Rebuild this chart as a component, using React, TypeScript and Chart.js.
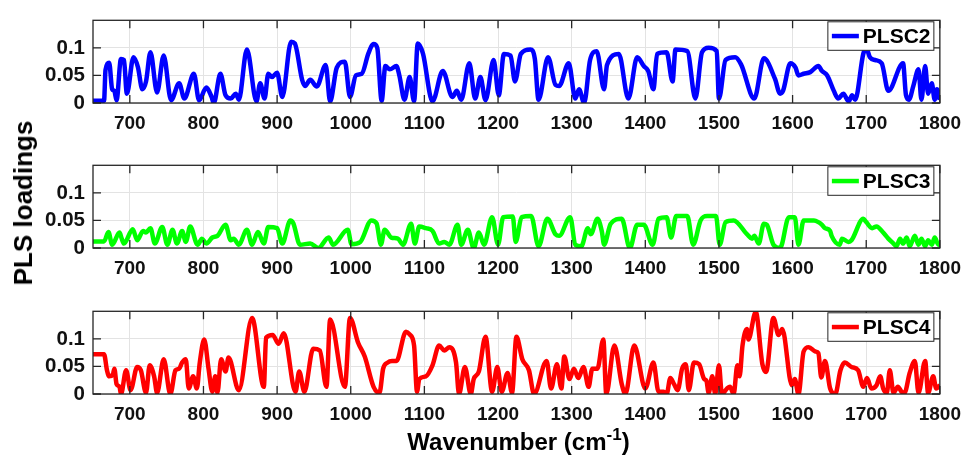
import React, { useEffect, useRef } from "react";
import { Chart, registerables } from "chart.js";

Chart.register(...registerables);

// ---------- data ----------
const xTicks = [700, 800, 900, 1000, 1100, 1200, 1300, 1400, 1500, 1600, 1700, 1800];
const yTicks = [0, 0.05, 0.1];
const yTickLabels = ["0", "0.05", "0.1"];
const xMin = 650;
const xMax = 1800;
const yMin = 0;
const yMax = 0.15;

const seriesNames = ["PLSC2", "PLSC3", "PLSC4"];
const seriesColors = ["#0000ff", "#00ff00", "#ff0000"];

const plsc2Wavenumbers = [
  650, 665, 667, 672, 676, 679, 682, 688, 692, 696, 705, 711, 717, 722, 728, 737, 746, 756, 767, 774,
  787, 794, 804, 811, 814, 823, 830, 837, 844, 848, 859, 872, 877, 883, 888, 893, 900, 907, 919, 924,
  934, 938, 945, 954, 966, 972, 981, 992, 999, 1007, 1015, 1024, 1031, 1036, 1042, 1047, 1053, 1062, 1066, 1073,
  1080, 1086, 1091, 1098, 1111, 1125, 1138, 1144, 1150, 1161, 1169, 1176, 1183, 1194, 1201, 1208, 1217, 1223, 1231, 1244,
  1250, 1255, 1268, 1278, 1283, 1296, 1305, 1310, 1317, 1325, 1334, 1344, 1348, 1364, 1377, 1389, 1398, 1404, 1411, 1416,
  1429, 1437, 1441, 1457, 1468, 1477, 1486, 1497, 1500, 1509, 1522, 1530, 1548, 1561, 1576, 1583, 1587, 1597, 1604, 1608,
  1615, 1624, 1635, 1640, 1647, 1656, 1662, 1669, 1676, 1681, 1685, 1696, 1700, 1705, 1712, 1721, 1730, 1750, 1754, 1758,
  1764, 1771, 1775, 1780, 1784, 1789, 1793, 1796, 1800,
];
const plsc2Values = [
  0.004, 0.004, 0.06, 0.073, 0.025, 0.022, 0.005, 0.08, 0.078, 0.017, 0.083, 0.065, 0.025, 0.039, 0.092, 0.019, 0.086, 0.005, 0.036, 0.008,
  0.053, 0.005, 0.028, 0.011, 0.0, 0.053, 0.014, 0.008, 0.017, 0.006, 0.097, 0.003, 0.036, 0.008, 0.053, 0.047, 0.055, 0.011, 0.111, 0.108,
  0.042, 0.031, 0.042, 0.03, 0.069, 0.003, 0.064, 0.075, 0.011, 0.05, 0.053, 0.09, 0.107, 0.1, 0.004, 0.067, 0.061, 0.067, 0.05, 0.006,
  0.047, 0.003, 0.108, 0.09, 0.003, 0.058, 0.011, 0.022, 0.006, 0.072, 0.008, 0.047, 0.005, 0.078, 0.014, 0.089, 0.086, 0.039, 0.089, 0.097,
  0.08, 0.006, 0.083, 0.033, 0.031, 0.072, 0.008, 0.025, 0.0, 0.078, 0.094, 0.025, 0.069, 0.089, 0.008, 0.083, 0.067, 0.058, 0.025, 0.089,
  0.092, 0.039, 0.097, 0.094, 0.008, 0.092, 0.1, 0.094, 0.008, 0.078, 0.083, 0.07, 0.008, 0.081, 0.044, 0.017, 0.022, 0.072, 0.064, 0.05,
  0.053, 0.056, 0.067, 0.058, 0.05, 0.022, 0.008, 0.017, 0.003, 0.014, 0.006, 0.089, 0.1, 0.083, 0.078, 0.072, 0.022, 0.072, 0.014, 0.006,
  0.031, 0.061, 0.006, 0.067, 0.017, 0.036, 0.006, 0.025, 0.006,
];

const plsc3Wavenumbers = [
  650, 665, 671, 676, 686, 689, 692, 704, 710, 718, 722, 728, 734, 744, 751, 758, 764, 771, 776, 782,
  792, 798, 804, 812, 819, 830, 837, 841, 848, 859, 866, 874, 882, 888, 900, 907, 918, 922, 931, 945,
  956, 970, 976, 996, 1001, 1013, 1028, 1035, 1041, 1046, 1055, 1064, 1071, 1082, 1087, 1093, 1102, 1111, 1120, 1127,
  1134, 1145, 1150, 1159, 1167, 1174, 1181, 1192, 1200, 1207, 1220, 1224, 1232, 1245, 1255, 1267, 1278, 1283, 1298, 1305,
  1313, 1322, 1326, 1335, 1341, 1344, 1353, 1368, 1379, 1389, 1398, 1410, 1418, 1429, 1435, 1442, 1457, 1465, 1475, 1484,
  1496, 1501, 1509, 1520, 1538, 1545, 1548, 1554, 1561, 1565, 1574, 1583, 1595, 1603, 1608, 1615, 1629, 1635, 1640, 1644,
  1651, 1653, 1664, 1667, 1676, 1680, 1696, 1700, 1708, 1714, 1723, 1730, 1737, 1741, 1746, 1750, 1755, 1759, 1766, 1771,
  1775, 1780, 1784, 1789, 1793, 1798, 1800,
];
const plsc3Values = [
  0.012, 0.012, 0.029, 0.006, 0.028, 0.017, 0.008, 0.034, 0.014, 0.031, 0.028, 0.036, 0.008, 0.038, 0.006, 0.033, 0.008, 0.031, 0.011, 0.039,
  0.006, 0.017, 0.008, 0.019, 0.022, 0.042, 0.014, 0.017, 0.006, 0.033, 0.006, 0.029, 0.008, 0.038, 0.036, 0.008, 0.05, 0.045, 0.006, 0.008,
  0.0, 0.019, 0.006, 0.033, 0.007, 0.011, 0.05, 0.045, 0.006, 0.033, 0.019, 0.017, 0.006, 0.044, 0.008, 0.039, 0.036, 0.031, 0.008, 0.011,
  0.006, 0.042, 0.006, 0.033, 0.0, 0.028, 0.006, 0.056, 0.006, 0.056, 0.057, 0.011, 0.056, 0.058, 0.003, 0.053, 0.025, 0.022, 0.056, 0.006,
  0.003, 0.036, 0.025, 0.053, 0.03, 0.006, 0.044, 0.053, 0.0, 0.042, 0.042, 0.006, 0.053, 0.056, 0.019, 0.058, 0.058, 0.006, 0.05, 0.058,
  0.058, 0.006, 0.047, 0.05, 0.025, 0.017, 0.022, 0.008, 0.044, 0.042, 0.006, 0.0, 0.056, 0.056, 0.006, 0.05, 0.05, 0.047, 0.042, 0.036,
  0.031, 0.022, 0.006, 0.017, 0.011, 0.014, 0.053, 0.047, 0.036, 0.039, 0.028, 0.017, 0.008, 0.003, 0.017, 0.008, 0.019, 0.003, 0.022, 0.006,
  0.017, 0.003, 0.014, 0.006, 0.019, 0.006, 0.011,
];

const plsc4Wavenumbers = [
  650, 665, 669, 672, 677, 679, 682, 686, 688, 695, 701, 710, 715, 722, 727, 733, 737, 746, 755, 762,
  767, 771, 776, 780, 786, 791, 795, 801, 807, 812, 816, 819, 824, 830, 834, 848, 866, 882, 885, 894,
  902, 909, 925, 930, 937, 949, 958, 967, 972, 992, 999, 1010, 1019, 1031, 1039, 1044, 1050, 1056, 1062, 1075,
  1080, 1086, 1090, 1093, 1102, 1111, 1120, 1127, 1134, 1143, 1147, 1155, 1163, 1167, 1174, 1183, 1192, 1199, 1205, 1213,
  1219, 1225, 1233, 1242, 1249, 1266, 1272, 1280, 1286, 1290, 1297, 1303, 1309, 1316, 1323, 1328, 1335, 1343, 1347, 1358,
  1368, 1373, 1385, 1400, 1411, 1418, 1425, 1429, 1434, 1439, 1444, 1450, 1455, 1459, 1466, 1473, 1480, 1483, 1486, 1491,
  1495, 1500, 1504, 1511, 1515, 1520, 1525, 1528, 1532, 1538, 1540, 1550, 1559, 1564, 1574, 1581, 1586, 1599, 1603, 1608,
  1615, 1622, 1631, 1635, 1639, 1644, 1651, 1658, 1665, 1671, 1680, 1689, 1696, 1701, 1707, 1714, 1719, 1723, 1728, 1732,
  1737, 1743, 1748, 1752, 1759, 1766, 1771, 1780, 1784, 1791, 1795, 1800,
];
const plsc4Values = [
  0.072, 0.072, 0.043, 0.032, 0.035, 0.046, 0.018, 0.013, 0.0, 0.043, 0.007, 0.049, 0.043, 0.002, 0.052, 0.032, 0.002, 0.063, 0.0, 0.043,
  0.046, 0.057, 0.063, 0.01, 0.032, 0.01, 0.057, 0.099, 0.045, 0.004, 0.032, 0.002, 0.063, 0.041, 0.066, 0.007, 0.138, 0.013, 0.102, 0.107,
  0.091, 0.11, 0.004, 0.041, 0.004, 0.082, 0.079, 0.013, 0.135, 0.013, 0.138, 0.093, 0.068, 0.013, 0.002, 0.046, 0.057, 0.06, 0.06, 0.113,
  0.108, 0.088, 0.004, 0.027, 0.032, 0.052, 0.088, 0.079, 0.085, 0.057, 0.0, 0.049, 0.0, 0.027, 0.041, 0.104, 0.004, 0.049, 0.004, 0.038,
  0.002, 0.104, 0.063, 0.043, 0.0, 0.06, 0.01, 0.054, 0.01, 0.068, 0.027, 0.046, 0.029, 0.049, 0.013, 0.046, 0.046, 0.099, 0.0, 0.088,
  0.018, 0.0, 0.088, 0.01, 0.057, 0.004, 0.004, 0.0, 0.029, 0.018, 0.007, 0.046, 0.054, 0.007, 0.057, 0.054, 0.027, 0.024, 0.002, 0.032,
  0.0, 0.052, 0.0, 0.01, 0.013, 0.0, 0.052, 0.032, 0.088, 0.118, 0.099, 0.149, 0.054, 0.04, 0.138, 0.107, 0.118, 0.016, 0.027, 0.0,
  0.077, 0.085, 0.077, 0.074, 0.03, 0.06, 0.01, 0.0, 0.043, 0.057, 0.049, 0.043, 0.013, 0.029, 0.01, 0.016, 0.032, 0.01, 0.002, 0.043,
  0.002, 0.013, 0.004, 0.002, 0.038, 0.06, 0.002, 0.06, 0.002, 0.032, 0.01, 0.016,
];

const seriesWavenumbers = [plsc2Wavenumbers, plsc3Wavenumbers, plsc4Wavenumbers];
const seriesValues = [plsc2Values, plsc3Values, plsc4Values];

const xTitle = "Wavenumber (cm";
const xTitleSup = "-1";
const xTitleEnd = ")";
const yTitle = "PLS loadings";

// ---------- layout ----------
const FONT = "'Liberation Sans', Arial, Helvetica, sans-serif";
const W = 970;
const CANVAS_H = 135;
const PAD_TOP = 13;
const PANEL_TOPS = [13, 158, 304];

const framePlugin = {
  id: "matlabFrame",
  afterDatasetsDraw(chart: any, _args: any, opts: any) {
    const { ctx, chartArea: a, scales } = chart;
    ctx.save();
    // box
    ctx.strokeStyle = "#262626";
    ctx.lineWidth = 1.3;
    ctx.strokeRect(a.left, a.top, a.right - a.left, a.bottom - a.top);
    // inner ticks
    const tl = 8;
    ctx.beginPath();
    for (const v of xTicks) {
      const x = scales.x.getPixelForValue(v);
      ctx.moveTo(x, a.bottom);
      ctx.lineTo(x, a.bottom - tl);
      ctx.moveTo(x, a.top);
      ctx.lineTo(x, a.top + tl);
    }
    for (const v of yTicks) {
      const y = scales.y.getPixelForValue(v);
      ctx.moveTo(a.left, y);
      ctx.lineTo(a.left + tl, y);
      ctx.moveTo(a.right, y);
      ctx.lineTo(a.right - tl, y);
    }
    ctx.stroke();
    // legend
    const bx = a.right - 112;
    const by = a.top + 1.5;
    const bw = 106;
    const bh = 28.5;
    ctx.fillStyle = "#ffffff";
    ctx.fillRect(bx, by, bw, bh);
    ctx.strokeStyle = "#262626";
    ctx.lineWidth = 1;
    ctx.strokeRect(bx, by, bw, bh);
    const cy = by + bh / 2;
    ctx.strokeStyle = opts.color;
    ctx.lineWidth = 4.5;
    ctx.beginPath();
    ctx.moveTo(bx + 4, cy);
    ctx.lineTo(bx + 31, cy);
    ctx.stroke();
    ctx.fillStyle = "#000000";
    ctx.font = `bold 21px ${FONT}`;
    ctx.textBaseline = "middle";
    ctx.textAlign = "left";
    ctx.fillText(opts.label, bx + 35, cy + 1);
    ctx.restore();
  },
};

function Panel({ index }: { index: number }) {
  const ref = useRef<HTMLCanvasElement | null>(null);
  useEffect(() => {
    if (!ref.current) return;
    const xs = seriesWavenumbers[index];
    const ys = seriesValues[index];
    const chart = new Chart(ref.current, {
      type: "line",
      data: {
        datasets: [
          {
            label: seriesNames[index],
            data: xs.map((x, i) => ({ x, y: ys[i] })),
            borderColor: seriesColors[index],
            backgroundColor: seriesColors[index],
            borderWidth: 4.5,
            pointRadius: 0,
            fill: false,
            cubicInterpolationMode: "monotone",
            borderJoinStyle: "round",
          },
        ],
      },
      options: {
        animation: false,
        responsive: false,
        devicePixelRatio: 1,
        layout: { padding: { top: PAD_TOP, left: 0, right: W - 944, bottom: 2 } },
        plugins: {
          legend: { display: false },
          tooltip: { enabled: false },
          matlabFrame: { color: seriesColors[index], label: seriesNames[index] },
        } as any,
        scales: {
          x: {
            type: "linear",
            min: xMin,
            max: xMax,
            afterBuildTicks: (s: any) => {
              s.ticks = xTicks.map((v) => ({ value: v }));
            },
            afterFit: (s: any) => {
              s.height = 30;
            },
            ticks: {
              autoSkip: false,
              maxRotation: 0,
              minRotation: 0,
              padding: 9,
              color: "#111111",
              font: { family: FONT, size: 19, weight: "bold" },
              callback: (v: any) => String(v),
            },
            grid: { color: "#e3e3e3", lineWidth: 1, drawTicks: false },
            border: { display: false },
          },
          y: {
            type: "linear",
            min: yMin,
            max: yMax,
            afterBuildTicks: (s: any) => {
              s.ticks = yTicks.map((v) => ({ value: v }));
            },
            afterFit: (s: any) => {
              s.width = 93;
            },
            ticks: {
              padding: 8,
              color: "#111111",
              font: { family: FONT, size: 20.5, weight: "bold" },
              callback: (v: any) => {
                const k = yTicks.indexOf(v);
                return k >= 0 ? yTickLabels[k] : "";
              },
            },
            grid: { color: "#e3e3e3", lineWidth: 1, drawTicks: false },
            border: { display: false },
          },
        },
      },
      plugins: [framePlugin],
    } as any);
    return () => chart.destroy();
  }, [index]);
  return (
    <canvas
      ref={ref}
      width={W}
      height={CANVAS_H}
      style={{ position: "absolute", left: 0, top: PANEL_TOPS[index] - PAD_TOP, width: W, height: CANVAS_H }}
    />
  );
}

export default function App() {
  useEffect(() => {
    document.body.style.margin = "0";
    document.body.style.background = "#ffffff";
  }, []);
  return (
    <div style={{ position: "relative", width: W, height: 463, overflow: "hidden", background: "#fff" }}>
      <Panel index={0} />
      <Panel index={1} />
      <Panel index={2} />
      <div
        style={{
          position: "absolute",
          left: 318.5,
          width: 400,
          top: 426,
          textAlign: "center",
          fontFamily: FONT,
          fontWeight: "bold",
          fontSize: 24,
          lineHeight: "24px",
          color: "#000",
          whiteSpace: "nowrap",
        }}
      >
        {xTitle}
        <span style={{ fontSize: 17, verticalAlign: "10px", lineHeight: "17px" }}>{xTitleSup}</span>
        {xTitleEnd}
      </div>
      <div
        style={{
          position: "absolute",
          left: 22.5,
          top: 203,
          transform: "translate(-50%, -50%) rotate(-90deg)",
          fontFamily: FONT,
          fontWeight: "bold",
          fontSize: 26,
          lineHeight: "26px",
          color: "#000",
          whiteSpace: "nowrap",
        }}
      >
        {yTitle}
      </div>
    </div>
  );
}
